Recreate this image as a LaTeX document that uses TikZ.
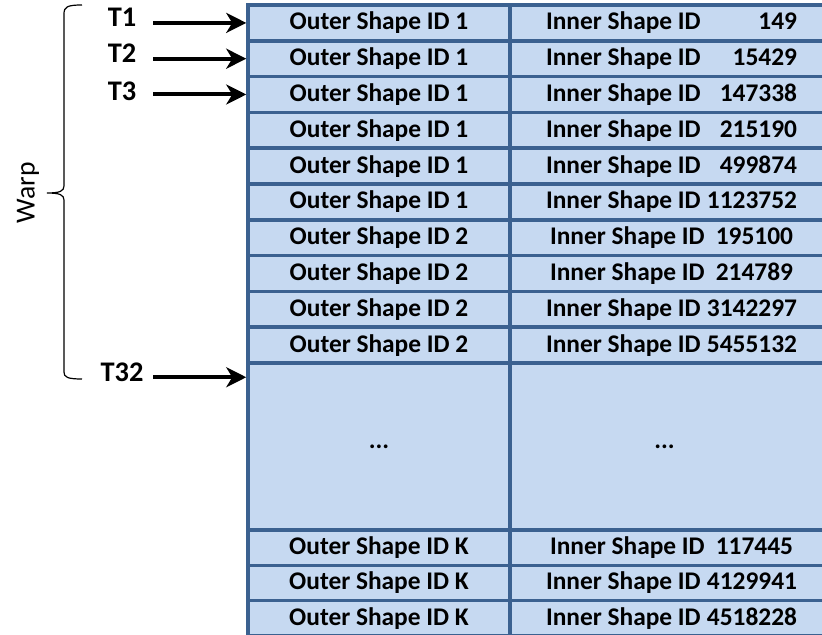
\documentclass[tikz,border=0pt]{standalone}
\usepackage{fontspec}
\setmainfont{Carlito}
\usepackage{tikz}
\usetikzlibrary{arrows.meta,calc}
\definecolor{tblfill}{HTML}{C6D9F1}
\definecolor{tblline}{HTML}{3B6190}
\newcommand{\idtext}[2][125.5pt]{\hbox to #1{Inner Shape ID\hfill #2}}

\begin{document}
\begin{tikzpicture}[x=0.5pt,y=-0.5pt,
  cellbox/.style={draw=tblline,fill=tblfill,line width=1.75pt,inner sep=0pt,
    font=\fontsize{12.7}{15}\selectfont\bfseries},
  outercell/.style={cellbox,minimum width=131pt,minimum height=17.9pt},
  innercell/.style={cellbox,minimum width=161.5pt,minimum height=17.9pt},
  tlab/.style={font=\fontsize{14.2}{17}\selectfont\bfseries,inner sep=0pt},
  tarrow/.style={line width=2pt,-{Stealth[length=10pt,width=10pt,inset=3pt]}}]
\useasboundingbox (0,0) rectangle (822,635);
% first ten rows of the warp
\foreach \i/\o/\n/\w in {1/1/149/125.5pt,2/1/15429/125.5pt,3/1/147338/125.5pt,
    4/1/215190/125.5pt,5/1/499874/125.5pt,6/1/1123752/125.5pt,7/2/195100/121.5pt,
    8/2/214789/121.5pt,9/2/3142297/125.5pt,10/2/5455132/125.5pt}{
  \node[outercell] (o\i) at (379,{5+35.8*(\i-0.5)}) {Outer Shape ID \o};
  \node[innercell] (n\i) at (671.5,{5+35.8*(\i-0.5)}) {\idtext[\w]{\n}};
}
\node[outercell,minimum height=83.5pt] (o11) at (379,446.5) {...};
\node[innercell,minimum height=83.5pt] (n11) at (671.5,446.5) {\hspace{-7pt}...};
% last rows
\foreach \k/\n/\w in {1/117445/121.5pt,2/4129941/125.5pt,3/4518228/125.5pt}{
  \node[outercell,minimum height=17.67pt] (k\k) at (379,{530+35.33*(\k-0.5)}) {Outer Shape ID K};
  \node[innercell,minimum height=17.67pt] (m\k) at (671.5,{530+35.33*(\k-0.5)}) {\idtext[\w]{\n}};
}
% threads
\node[tlab] (t1) at (122,17) {T1};
\node[tlab] (t2) at (122,53) {T2};
\node[tlab] (t3) at (122,91) {T3};
\node[tlab] (t32) at (122,372) {T32};
\draw[tarrow] ($(t1.center |- o1.west)+(31,0)$) -- (o1.west);
\draw[tarrow] ($(t2.center |- o2.west)+(31,0)$) -- (o2.west);
\draw[tarrow] ($(t3.center |- o3.west)+(31,0)$) -- (o3.west);
\coordinate (w32) at ([yshift=-8pt]o11.north west);
\draw[tarrow] ($(t32.center |- w32)+(31,0)$) -- (w32);
% warp brace
\draw[line width=0.6pt] (82,5) .. controls (67,5) and (64,7) .. (64,14) -- (64,186)
  .. controls (64,191) and (60,193) .. (47,193) .. controls (60,193) and (64,195) .. (64,200)
  -- (64,372) .. controls (64,377) and (67,379) .. (82,379);
\node[rotate=90,font=\fontsize{13.8}{16}\selectfont] (warp) at (28,193) {Warp};
\end{tikzpicture}
\end{document}
